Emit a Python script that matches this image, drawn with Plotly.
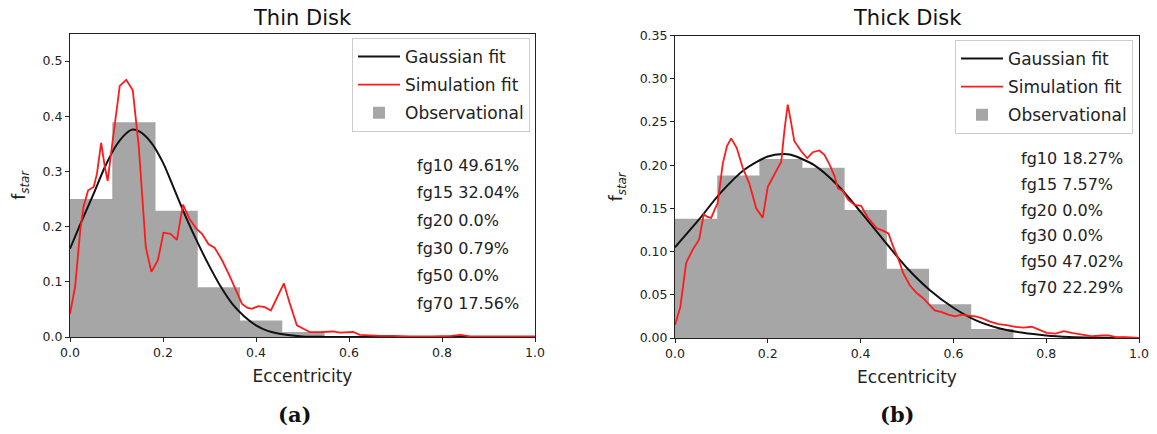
import plotly.graph_objects as go

# ---------------- data ----------------
bin_edges = [0.0, 0.0909, 0.1818, 0.2727, 0.3636, 0.4545, 0.5455, 0.6364, 0.7273, 0.8182, 0.9091, 1.0]

thin_obs = [0.25, 0.389, 0.229, 0.09, 0.03, 0.009, 0.0, 0.0, 0.0, 0.0, 0.0]
thick_obs = [0.138, 0.188, 0.207, 0.197, 0.148, 0.080, 0.039, 0.0104, 0.0, 0.0, 0.0]

thin_gauss_x = [0, 0.025, 0.05, 0.075, 0.1, 0.125, 0.135, 0.15, 0.175, 0.2, 0.225, 0.25, 0.275,
                0.3, 0.325, 0.35, 0.375, 0.4, 0.425, 0.45, 0.5, 0.55, 0.6, 0.7, 0.8, 0.9, 1.0]
thin_gauss_y = [0.16, 0.21, 0.258, 0.308, 0.348, 0.372, 0.376, 0.372, 0.352, 0.316, 0.266, 0.216, 0.170,
                0.128, 0.090, 0.059, 0.037, 0.021, 0.011, 0.006, 0.001, 0.0002, 0.0, 0.0, 0.0, 0.0, 0.0]

thin_sim_x = [0.0, 0.011, 0.022, 0.029, 0.039, 0.051, 0.058, 0.067, 0.075, 0.081, 0.090, 0.097, 0.107,
              0.121, 0.135, 0.148, 0.158, 0.163, 0.175, 0.189, 0.201, 0.216, 0.230, 0.243, 0.257, 0.272,
              0.284, 0.298, 0.311, 0.327, 0.341, 0.356, 0.370, 0.381, 0.391, 0.405, 0.419, 0.432, 0.446,
              0.460, 0.473, 0.488, 0.502, 0.516, 0.537, 0.551, 0.566, 0.580, 0.595, 0.609, 0.623, 0.638,
              0.666, 0.695, 0.73, 0.78, 0.82, 0.84, 0.86, 0.9, 0.95, 1.0]
thin_sim_y = [0.042, 0.091, 0.193, 0.236, 0.266, 0.272, 0.296, 0.352, 0.308, 0.283, 0.344, 0.387, 0.455,
              0.466, 0.447, 0.344, 0.224, 0.163, 0.118, 0.139, 0.189, 0.187, 0.176, 0.240, 0.214, 0.196,
              0.187, 0.168, 0.162, 0.139, 0.115, 0.088, 0.060, 0.053, 0.051, 0.056, 0.054, 0.048, 0.072,
              0.097, 0.060, 0.021, 0.015, 0.009, 0.009, 0.009, 0.010, 0.008, 0.008, 0.009, 0.004, 0.003,
              0.002, 0.002, 0.001, 0.001, 0.002, 0.004, 0.001, 0.001, 0.001, 0.001]

thick_gauss_x = [0, 0.05, 0.1, 0.15, 0.2, 0.232, 0.25, 0.3, 0.35, 0.4, 0.45, 0.5, 0.55, 0.6, 0.65,
                 0.7, 0.75, 0.8, 0.85, 0.9, 0.95, 1.0]
thick_gauss_y = [0.105, 0.136, 0.169, 0.195, 0.210, 0.213, 0.212, 0.200, 0.177, 0.146, 0.113, 0.081,
                 0.055, 0.035, 0.020, 0.011, 0.006, 0.003, 0.0013, 0.0005, 0.0002, 0.0001]

thick_sim_x = [0.0, 0.0115, 0.024, 0.038, 0.052, 0.062, 0.070, 0.078, 0.085, 0.092, 0.103, 0.112, 0.121,
               0.133, 0.146, 0.160, 0.175, 0.189, 0.200, 0.218, 0.229, 0.236, 0.243, 0.249, 0.257, 0.272,
               0.285, 0.297, 0.311, 0.322, 0.333, 0.344, 0.351, 0.362, 0.373, 0.387, 0.401, 0.416, 0.435,
               0.449, 0.460, 0.470, 0.481, 0.492, 0.506, 0.521, 0.535, 0.549, 0.560, 0.575, 0.589, 0.603,
               0.618, 0.632, 0.647, 0.661, 0.679, 0.697, 0.715, 0.733, 0.751, 0.769, 0.787, 0.801, 0.82,
               0.838, 0.855, 0.875, 0.9, 0.92, 0.935, 0.95, 0.97, 1.0]
thick_sim_y = [0.015, 0.036, 0.087, 0.102, 0.114, 0.143, 0.140, 0.139, 0.148, 0.156, 0.202, 0.222, 0.231,
               0.220, 0.197, 0.179, 0.150, 0.139, 0.175, 0.193, 0.204, 0.241, 0.270, 0.253, 0.228, 0.216,
               0.208, 0.215, 0.217, 0.212, 0.201, 0.187, 0.173, 0.170, 0.160, 0.154, 0.153, 0.139, 0.127,
               0.124, 0.121, 0.106, 0.092, 0.075, 0.061, 0.052, 0.046, 0.038, 0.032, 0.030, 0.027, 0.025,
               0.027, 0.026, 0.025, 0.023, 0.019, 0.016, 0.015, 0.013, 0.012, 0.013, 0.009, 0.006, 0.005,
               0.008, 0.006, 0.004, 0.002, 0.003, 0.003, 0.001, 0.001, 0.0]

thin_fg_labels = ["fg10 49.61%", "fg15 32.04%", "fg20 0.0%", "fg30 0.79%", "fg50 0.0%", "fg70 17.56%"]
thick_fg_labels = ["fg10 18.27%", "fg15 7.57%", "fg20 0.0%", "fg30 0.0%", "fg50 47.02%", "fg70 22.29%"]

panel_titles = ["Thin Disk", "Thick Disk"]
captions = ["(a)", "(b)"]
legend_names = ["Gaussian fit", "Simulation fit", "Observational"]

# ---------------- figure ----------------
W, H = 1157, 434
FONT = "DejaVu Sans"
GREY = "#a6a6a6"
TXT = "#222222"

bin_left = bin_edges[:-1]
# tiny overlap so adjacent bars do not show anti-aliasing seams
bin_width = [(b - a) + 0.002 for a, b in zip(bin_edges[:-1], bin_edges[1:])]

fig = go.Figure()

panels = [
    dict(obs=thin_obs, gx=thin_gauss_x, gy=thin_gauss_y, sx=thin_sim_x, sy=thin_sim_y,
         xa="x", ya="y", legend="legend"),
    dict(obs=thick_obs, gx=thick_gauss_x, gy=thick_gauss_y, sx=thick_sim_x, sy=thick_sim_y,
         xa="x2", ya="y2", legend="legend2"),
]

for i, p in enumerate(panels):
    fig.add_trace(go.Bar(x=bin_left, y=p["obs"], width=bin_width, offset=0,
                         marker=dict(color=GREY, line=dict(width=0)),
                         name=legend_names[2], legendrank=3, legendgroup=f"o{i}",
                         xaxis=p["xa"], yaxis=p["ya"], legend=p["legend"]))
    fig.add_trace(go.Scatter(x=p["gx"], y=p["gy"], mode="lines",
                             line=dict(color="#111111", width=2, shape="spline", smoothing=0.8),
                             name=legend_names[0], legendrank=1, legendgroup=f"g{i}",
                             xaxis=p["xa"], yaxis=p["ya"], legend=p["legend"]))
    fig.add_trace(go.Scatter(x=p["sx"], y=p["sy"], mode="lines",
                             line=dict(color="#ff1a1a", width=1.8),
                             name=legend_names[1], legendrank=2, legendgroup=f"s{i}",
                             xaxis=p["xa"], yaxis=p["ya"], legend=p["legend"]))

# axes geometry (pixels)
L_x0, L_x1 = 70, 535
R_x0, R_x1 = 675, 1139
L_top, L_bot = 33.5, 337
R_top, R_bot = 35.5, 338

axis_common = dict(showgrid=False, zeroline=False, showline=True, mirror=True, automargin=False,
                   linecolor=TXT, linewidth=1, ticks="outside", ticklen=4,
                   tickcolor=TXT, tickfont=dict(family=FONT, size=12.5, color=TXT))
xtitle = dict(text="Eccentricity", standoff=11, font=dict(family=FONT, size=17, color=TXT))
ytitle = dict(text="f<sub><i>star</i></sub>", standoff=12, font=dict(family=FONT, size=17, color=TXT))
legend_common = dict(xanchor="right", yanchor="top", itemwidth=42,
                     bgcolor="rgba(255,255,255,0.8)", bordercolor="#cccccc", borderwidth=1,
                     font=dict(family=FONT, size=17, color=TXT), traceorder="grouped",
                     tracegroupgap=3)

fig.update_layout(
    width=W, height=H, margin=dict(l=0, r=0, t=0, b=0, autoexpand=False),
    paper_bgcolor="white", plot_bgcolor="white", showlegend=True,
    barmode="overlay",
    xaxis=dict(domain=[L_x0 / W, L_x1 / W], range=[0, 1], dtick=0.2, tickformat=".1f",
               anchor="y", title=xtitle, **axis_common),
    yaxis=dict(domain=[1 - L_bot / H, 1 - L_top / H], range=[0, 0.55], dtick=0.1, tickformat=".1f",
               anchor="x", title=ytitle, **axis_common),
    xaxis2=dict(domain=[R_x0 / W, R_x1 / W], range=[0, 1], dtick=0.2, tickformat=".1f",
                anchor="y2", title=xtitle, **axis_common),
    yaxis2=dict(domain=[1 - R_bot / H, 1 - R_top / H], range=[0, 0.35], dtick=0.05, tickformat=".2f",
                anchor="x2", title=ytitle, **axis_common),
    legend=dict(x=530 / W, y=1 - 38 / H, **legend_common),
    legend2=dict(x=1133 / W, y=1 - 40 / H, **legend_common),
)

annotations = []
# panel titles
for title, (x0, x1) in zip(panel_titles, [(L_x0, L_x1), (R_x0, R_x1)]):
    annotations.append(dict(text=title, x=(x0 + x1) / 2 / W, y=1 - 18 / H, xref="paper", yref="paper",
                            xanchor="center", yanchor="middle", showarrow=False,
                            font=dict(family=FONT, size=21, color="#111111")))
# captions
for cap, cx in zip(captions, [294, 897]):
    annotations.append(dict(text=f"<b>{cap}</b>", x=cx / W, y=1 - 414 / H, xref="paper", yref="paper",
                            xanchor="center", yanchor="middle", showarrow=False,
                            font=dict(family="DejaVu Serif", size=21, color="#111111")))
# fg labels (data coordinates)
for labels, xr, yr, y_start, y_step in [(thin_fg_labels, "x", "y", 0.311, 0.05),
                                        (thick_fg_labels, "x2", "y2", 0.2075, 0.0297)]:
    for k, lab in enumerate(labels):
        annotations.append(dict(text=lab, x=0.742, y=y_start - k * y_step, xref=xr, yref=yr,
                                xanchor="left", yanchor="middle", showarrow=False,
                                font=dict(family=FONT, size=16, color=TXT)))
fig.update_layout(annotations=annotations)

fig.write_html("out.html")
